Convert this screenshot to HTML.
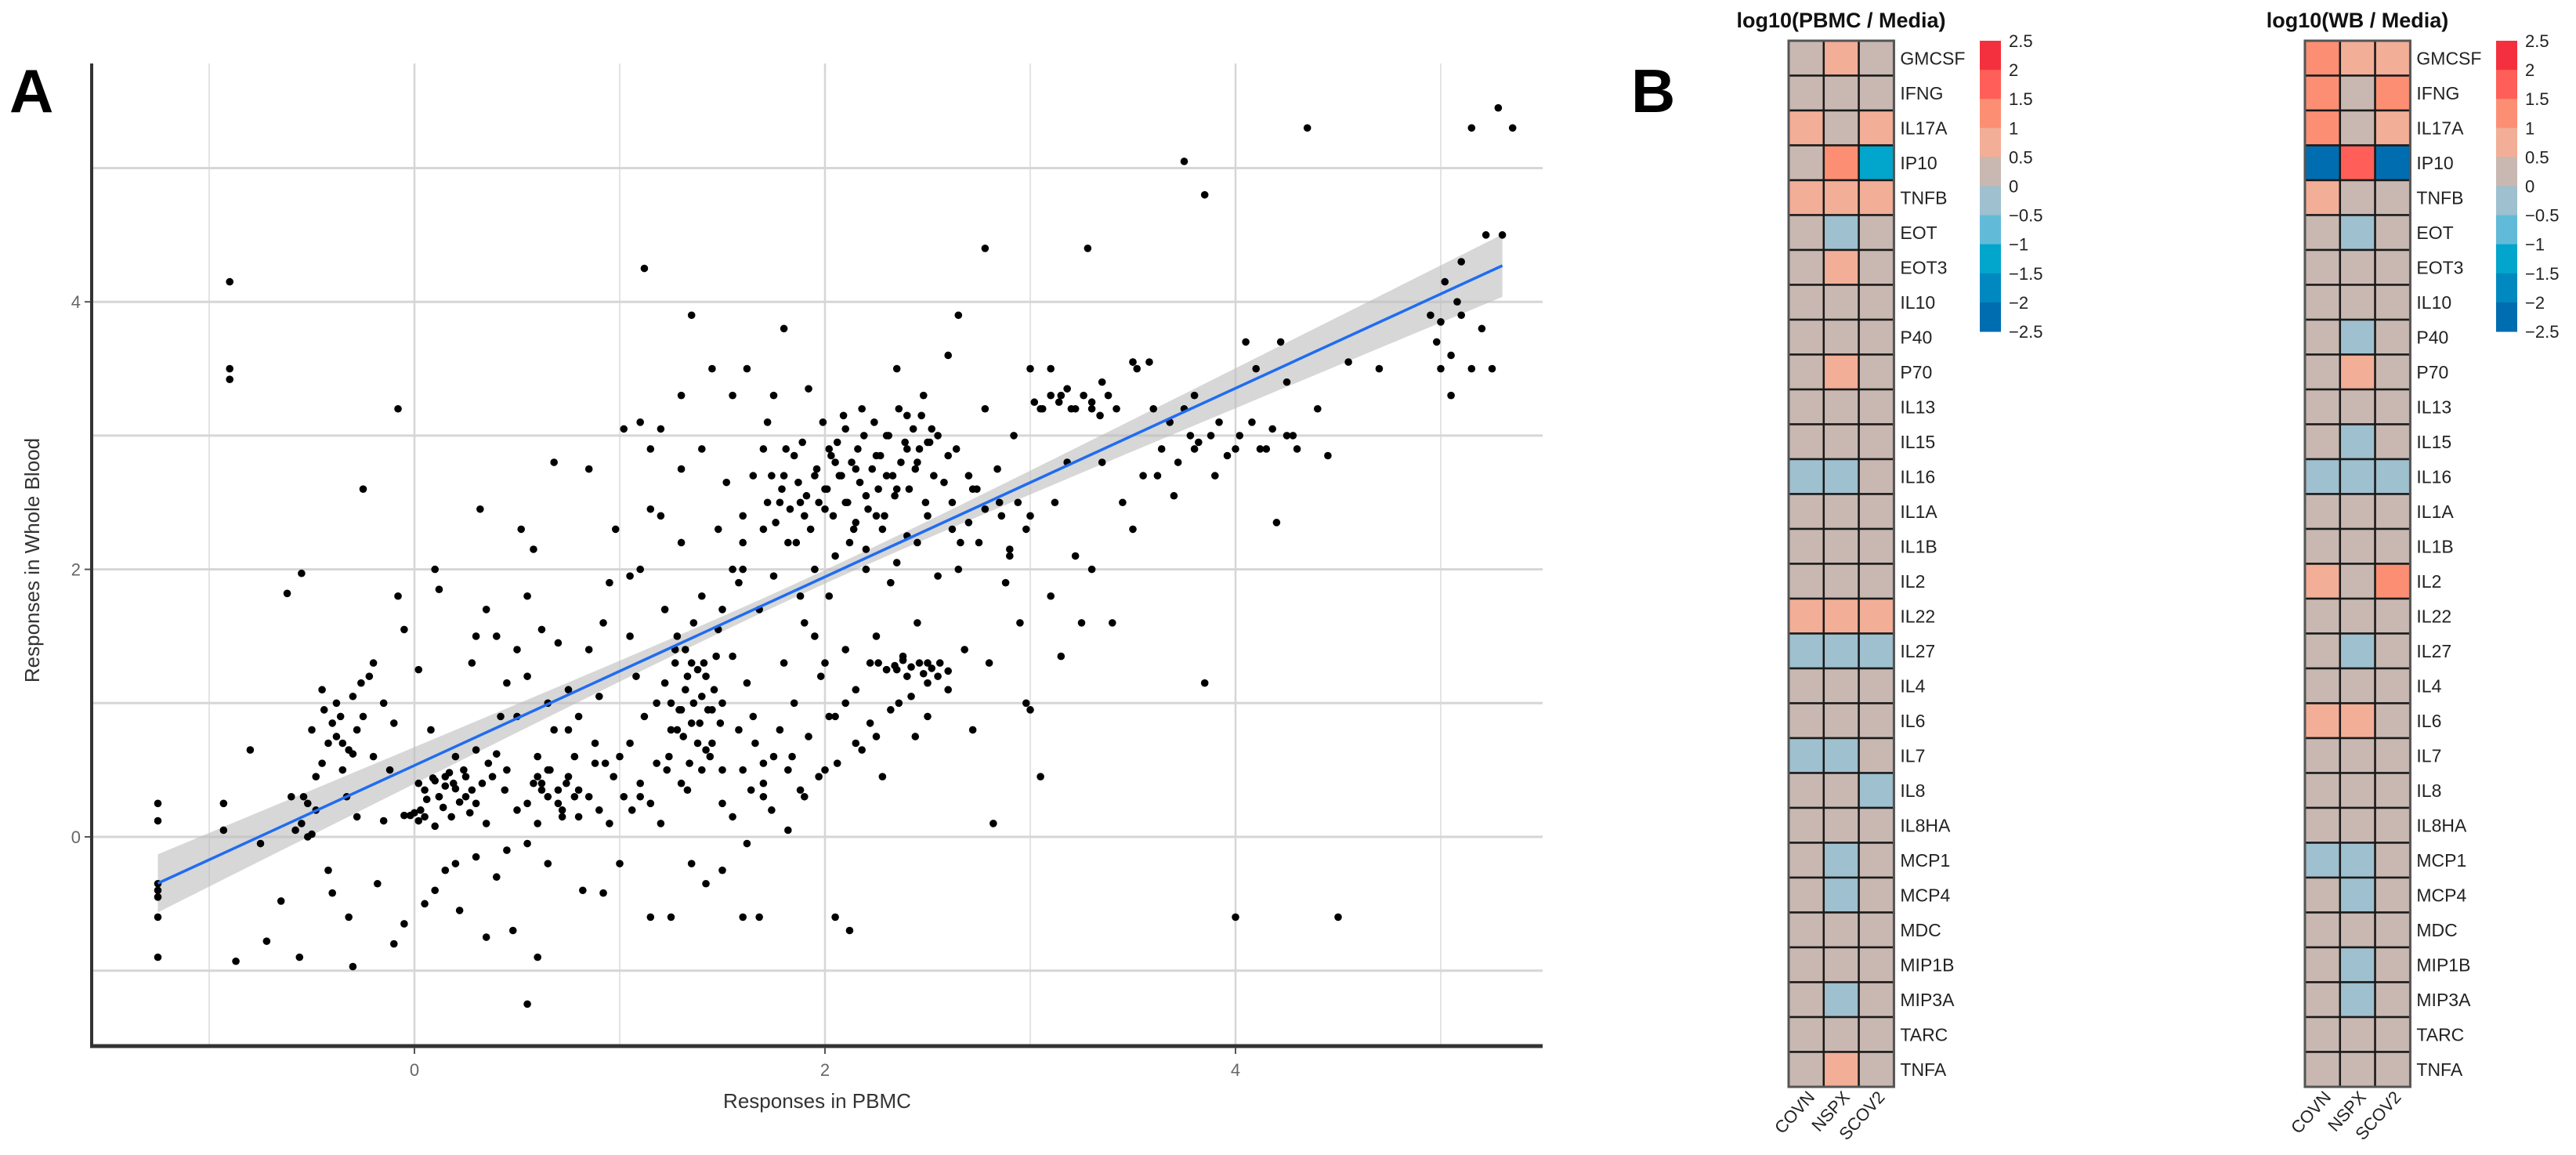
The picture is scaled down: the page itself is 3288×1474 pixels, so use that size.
<!DOCTYPE html>
<html><head><meta charset="utf-8"><style>
html,body{margin:0;padding:0;background:#fff;}
svg{display:block;font-family:"Liberation Sans",sans-serif;}
</style></head><body>
<svg id="fig" width="3288" height="1474" viewBox="0 0 3288 1474" xmlns="http://www.w3.org/2000/svg">
<text x="12" y="143" font-size="78" font-weight="bold">A</text>
<text x="2082" y="143" font-size="78" font-weight="bold">B</text>
<g id="scatter"></g>
<g id="heat"></g>
</svg>
<script>
const NS='http://www.w3.org/2000/svg';
function mk(tag,attrs,parent){const e=document.createElementNS(NS,tag);for(const k in attrs)e.setAttribute(k,attrs[k]);parent.appendChild(e);return e;}

// ---------- Scatter data ----------
const xTicks=[0,2,4];
const yTicks=[0,2,4];
const xMinor=[-1,1,3,5];
const yMinor=[-1,1,3,5];
const fitCoef=[0.534,0.705];
const fitRange=[-1.25,5.3];
const ptsX=[-1.25,-1.25,-1.25,-1.25,-1.25,-1.25,-1.25,-0.9,-0.9,-0.9,-0.93,-0.93,-0.87,-0.8,-0.75,-0.72,-0.65,-0.62,-0.55,-0.6,-0.56,-0.55,-0.52,-0.52,-0.5,-0.5,-0.48,-0.45,-0.45,-0.42,-0.4,-0.4,-0.38,-0.35,-0.33,-0.32,-0.3,-0.3,-0.28,-0.25,-0.25,-0.22,-0.2,-0.2,-0.18,-0.15,-0.15,-0.12,-0.1,-0.1,-0.08,-0.08,-0.05,-0.05,0,0.02,0.02,0.05,0.05,0.08,0.1,0.1,0.12,0.12,0.15,0.15,0.18,0.2,0.22,0.25,0.28,0.3,0.3,0.32,0.35,0.35,0.38,0.4,0.42,0.45,0.48,0.5,0.5,0.52,0.55,0.55,0.58,0.6,0.6,0.62,0.65,0.65,0.68,0.7,0.72,0.75,0.78,0.8,0.82,0.85,0.88,0.9,0.92,
0.95,0.98,1.0,1.0,1.02,1.05,1.05,1.08,1.1,1.1,1.12,1.12,1.15,1.15,1.18,1.2,1.2,1.22,1.25,1.25,1.28,1.3,1.3,1.3,1.32,1.35,1.35,1.35,1.38,1.4,1.4,1.42,1.42,1.45,1.45,1.48,1.48,1.5,1.5,1.5,
1.52,1.55,1.55,1.58,1.6,1.6,1.62,1.62,1.65,1.68,1.68,1.7,1.7,1.72,1.75,1.75,1.78,1.8,1.8,1.82,1.82,1.85,1.85,1.88,1.9,1.9,1.92,1.95,1.95,1.98,2.0,2.0,2.02,2.02,2.05,2.05,2.08,2.1,2.1,2.12,2.12,2.15,2.15,2.18,2.2,2.2,2.22,2.25,2.25,2.28,2.3,2.3,2.32,2.35,2.35,2.38,2.4,2.4,2.42,2.45,2.45,2.48,2.5,2.5,2.52,2.55,2.58,2.6,2.6,2.62,2.65,2.65,2.68,2.7,2.72,2.75,2.78,2.78,2.8,2.82,2.85,2.88,2.9,2.92,2.95,2.98,3.0,3.0,3.0,3.05,3.05,3.1,3.1,3.12,3.15,3.15,3.18,3.2,3.22,3.25,3.28,3.3,3.3,3.35,3.35,3.4,3.45,3.5,3.5,3.55,3.6,3.62,3.7,3.75,3.75,3.8,3.8,3.85,3.85,3.88,3.9,4.0,4.05,4.0,4.1,4.15,4.2,4.22,4.25,4.25,4.3,4.35,4.4,4.45,4.5,4.55,4.7,4.95,5.0,5.02,5.05,5.05,5.1,5.1,5.15,5.15,5.2,5.22,5.25,5.28,5.3,5.35,4.98,5.08,5.0,
0.05,0.1,0.15,0.2,0.25,0.28,-0.02,0.02,0.6,0.62,0.65,0.7,0.75,0.78,1.25,1.28,1.3,1.32,1.35,1.4,1.42,1.45,1.38,1.5,1.55,1.6,1.65,1.7,1.6,1.58,1.75,1.8,1.9,2.0,2.05,2.1,2.15,2.2,2.25,2.3,2.35,2.4,2.45,2.5,2.55,2.6,1.88,1.95,2.0,2.25,2.35,2.4,2.5,2.55,2.05,2.15,1.5,1.55,1.62,1.7,1.82,0.45,0.4,0.35,0.3,0.55,0.5,0.85,0.92,0.95,0.8,0.75,0.65,0.55,0.45,0.3,0.2,0.1,-0.05,1.1,1.2,1.15,1.3,1.05,
0.03,0.06,0.09,0.12,0.14,0.17,0.19,0.22,0.24,0.27,0.33,0.36,0.4,0.44,-0.35,-0.32,-0.28,-0.44,-0.38,-0.26,-0.48,-0.42,-0.36,-0.3,-0.58,-0.54,
1.22,1.24,1.27,1.29,1.31,1.33,1.34,1.36,1.39,1.41,1.43,1.44,1.46,1.47,1.49,1.36,1.33,1.27,1.23,1.4,
1.72,1.74,1.76,1.79,1.81,1.83,1.86,1.87,1.89,1.91,1.93,1.96,1.97,1.99,2.01,2.03,2.04,2.06,2.07,2.09,2.11,2.13,2.14,2.16,2.17,2.19,2.21,2.23,2.24,2.26,2.27,2.29,2.31,2.33,2.34,2.36,2.37,2.39,2.41,2.43,2.44,2.46,2.47,2.49,2.51,2.53,
2.26,2.3,2.34,2.38,2.42,2.46,2.48,2.52,2.56,2.6,
3.02,3.06,3.1,3.14,3.18,3.22,3.26,3.3,3.34,3.38,3.42,3.5,3.52,3.58,3.64,3.68,3.72,3.78,3.82,3.92,3.96,4.02,4.08,4.12,4.18,4.28,
0.55,0.58,0.62,0.66,0.7,0.74,0.8,0.85,0.9,0.97,1.02,1.06,1.1,1.15,1.18,0.88,0.93,0.68,0.72,0.6,
1.6,1.64,1.66,1.7,1.74,1.78,1.84,1.88,1.92,1.97,2.02,2.06,2.1,2.18,2.22,2.28,2.32,2.36,2.44,2.5,
2.62,2.66,2.7,2.74,2.78,2.84,2.9,2.94,2.98,2.64,2.72,2.86];
const ptsY=[0.25,0.12,-0.35,-0.4,-0.45,-0.6,-0.9,4.15,3.5,3.42,0.25,0.05,-0.93,0.65,-0.05,-0.78,-0.48,1.82,1.97,0.3,-0.9,0.1,0.0,0.25,0.8,0.02,0.2,1.1,0.55,-0.25,0.85,-0.42,1.0,0.7,0.3,-0.6,1.05,-0.97,0.15,2.6,0.9,1.2,1.3,0.6,-0.35,1.0,0.12,0.5,0.85,-0.8,3.2,1.8,1.55,0.16,0.18,1.25,0.4,-0.5,0.15,0.8,2.0,0.08,1.85,0.3,-0.25,0.45,0.15,0.6,-0.55,0.3,1.3,0.25,0.65,2.45,0.1,-0.75,0.45,-0.3,0.9,0.5,-0.7,1.4,0.2,2.3,1.8,-1.25,2.15,0.45,-0.9,1.55,1.0,0.3,2.8,1.45,0.2,1.1,0.6,0.35,-0.4,2.75,0.55,1.05,-0.42,
1.9,2.3,0.6,-0.2,3.05,1.95,0.7,1.2,3.1,0.3,4.25,0.9,2.45,-0.6,1.0,3.05,0.1,1.7,-0.6,0.8,1.5,2.2,3.3,0.4,1.1,3.9,1.3,-0.2,0.7,1.8,2.9,1.2,-0.35,3.5,0.95,1.55,2.3,0.5,1.0,-0.25,
2.65,1.35,3.3,0.8,2.0,-0.6,1.15,3.5,0.9,1.7,-0.6,2.3,0.3,3.1,1.95,0.6,2.5,3.8,1.3,2.2,0.05,2.85,1.0,2.5,1.6,0.3,3.35,2.0,2.7,1.2,2.45,0.5,1.8,2.9,2.1,-0.6,2.7,1.4,3.05,-0.7,2.2,2.75,1.1,3.2,2.0,2.55,1.3,2.85,0.75,2.3,3.0,1.25,1.9,3.5,2.6,1.35,3.15,2.25,1.05,2.8,1.6,3.3,1.3,2.4,3.05,1.95,2.65,3.6,1.1,2.3,2.0,3.9,1.4,2.7,0.8,2.2,4.4,3.2,1.3,0.1,2.5,1.9,2.15,3.0,1.6,1.0,0.95,3.5,2.4,3.2,0.45,1.8,3.5,2.5,3.3,1.35,2.8,3.2,2.1,1.6,4.4,3.2,2.0,3.4,2.8,1.6,2.5,3.55,2.3,2.7,3.2,2.7,2.55,5.05,3.2,2.9,3.3,1.15,4.8,3.0,2.7,2.9,3.7,-0.6,3.5,2.9,2.35,3.7,3.0,3.4,2.9,5.3,3.2,2.85,-0.6,3.55,3.5,3.9,3.85,4.15,3.6,3.3,4.3,3.9,5.3,3.5,3.8,4.5,3.5,5.45,4.5,5.3,3.7,4.0,3.5,
0.35,0.42,0.38,0.36,0.45,0.35,0.16,0.12,0.6,0.4,0.5,0.35,0.45,0.3,1.0,0.8,0.95,1.4,0.85,0.5,0.65,0.7,1.25,1.7,2.0,2.4,2.7,2.9,2.2,1.9,3.3,2.7,2.4,2.6,2.8,2.5,2.35,2.15,2.4,2.7,2.05,2.9,2.2,2.95,3.0,2.85,1.8,1.5,1.3,1.5,1.25,1.2,1.15,1.2,0.9,0.7,0.25,0.15,-0.05,0.4,0.5,1.15,1.5,1.7,1.5,1.2,0.9,1.4,1.6,0.1,0.9,0.8,-0.2,-0.05,-0.1,-0.15,-0.2,-0.4,-0.65,2.0,2.4,2.9,2.75,1.5,
0.2,0.28,0.44,0.3,0.22,0.48,0.4,0.26,0.5,0.18,0.4,0.55,0.62,0.35,0.5,0.65,0.8,0.95,0.75,1.15,0.45,0.7,0.9,0.62,0.05,0.3,
1.15,0.6,1.3,0.95,0.75,1.2,0.55,1.0,0.85,1.3,0.95,0.6,1.1,1.35,0.85,1.6,0.35,1.4,0.5,1.05,
2.5,2.7,2.35,2.6,2.9,2.45,2.2,2.65,2.95,2.55,2.3,2.75,2.5,3.1,2.6,2.85,2.4,2.95,2.7,3.15,2.5,2.8,2.3,2.9,2.65,3.0,2.45,2.75,3.1,2.6,2.85,2.4,3.0,2.7,2.55,3.2,2.8,2.95,2.6,3.05,2.75,2.9,3.15,2.5,2.95,2.7,
1.3,1.25,1.28,1.32,1.27,1.3,1.22,1.26,1.3,1.24,
3.25,3.2,3.3,3.25,3.35,3.2,3.3,3.25,3.15,3.3,3.2,3.55,3.5,3.55,2.9,3.1,2.8,3.0,2.95,3.1,2.85,3.0,3.1,2.9,3.05,3.0,
0.25,0.4,0.35,0.5,0.25,0.4,0.15,0.3,0.2,0.45,0.3,0.2,0.4,0.25,0.55,0.7,0.55,0.8,0.15,0.1,
0.5,0.35,0.7,0.55,0.2,0.8,0.6,0.35,0.75,0.45,0.9,0.55,1.0,0.65,0.85,0.45,0.95,1.0,0.75,0.9,
2.5,2.2,2.35,2.6,2.45,2.75,2.1,2.5,2.3,2.9,2.6,2.4];

// axis functions
const PX0=529, PXU=262, PY0=1068, PYU=170.7;
const L=117, R=1969, T=81, B=1335;
function sx(v){return PX0+v*PXU;}
function sy(v){return PY0-v*PYU;}

const sc=document.getElementById('scatter');
for(const v of xMinor){const l=mk('line',{x1:sx(v),x2:sx(v),y1:T,y2:B,stroke:'#e4e4e4','stroke-width':2},sc);

}
for(const v of xTicks){const l=mk('line',{x1:sx(v),x2:sx(v),y1:T,y2:B,stroke:'#d6d6d6','stroke-width':2.5},sc);

}
for(const v of yMinor){const l=mk('line',{x1:L,x2:R,y1:sy(v),y2:sy(v),stroke:'#d6d6d6','stroke-width':3},sc);

}
for(const v of yTicks){const l=mk('line',{x1:L,x2:R,y1:sy(v),y2:sy(v),stroke:'#d6d6d6','stroke-width':3},sc);

}
(function(){
  let up=[],dn=[];
  for(let i=0;i<=40;i++){const x=fitRange[0]+(fitRange[1]-fitRange[0])*i/40;const y=fitCoef[0]+fitCoef[1]*x;const h=Math.sqrt(0.0025+0.0045*(x-1.9)*(x-1.9));
  up.push(sx(x)+','+sy(y+h));dn.unshift(sx(x)+','+sy(y-h));}
  const p=mk('polygon',{points:up.concat(dn).join(' '),fill:'#bdbdbd','fill-opacity':0.6},sc);
  
  
})();
for(let i=0;i<ptsX.length;i++){const c=mk('circle',{cx:sx(ptsX[i]),cy:sy(ptsY[i]),r:4.8,fill:'#000'},sc);

}
{const l=mk('line',{x1:sx(fitRange[0]),y1:sy(fitCoef[0]+fitCoef[1]*fitRange[0]),x2:sx(fitRange[1]),y2:sy(fitCoef[0]+fitCoef[1]*fitRange[1]),stroke:'#1f6cf0','stroke-width':3.5},sc);

}
{const a=mk('line',{x1:L,x2:L,y1:T,y2:B+2,stroke:'#333','stroke-width':4},sc);


const b=mk('line',{x1:L-2,x2:R,y1:B,y2:B,stroke:'#333','stroke-width':5},sc);

}
for(const v of xTicks){
  const t=mk('line',{x1:sx(v),x2:sx(v),y1:B+2,y2:B+10,stroke:'#555','stroke-width':2},sc);
  
  
  const tx=mk('text',{x:sx(v),y:B+38,'font-size':22,fill:'#666','text-anchor':'middle'},sc);tx.textContent=v;
  
  
}
for(const v of yTicks){
  const t=mk('line',{x1:L-9,x2:L-2,y1:sy(v),y2:sy(v),stroke:'#555','stroke-width':2},sc);
  
  
  const tx=mk('text',{x:L-14,y:sy(v)+8,'font-size':22,fill:'#666','text-anchor':'end'},sc);tx.textContent=v;
  
  
}
{const xt=mk('text',{x:1043,y:1414,'font-size':26,fill:'#333','text-anchor':'middle'},sc);xt.textContent='Responses in PBMC';


const yt=mk('text',{x:0,y:0,'font-size':26,fill:'#333','text-anchor':'middle',transform:'translate(50,715) rotate(-90)'},sc);yt.textContent='Responses in Whole Blood';

}

// ---------- Heatmap data ----------
const cytokines=['GMCSF','IFNG','IL17A','IP10','TNFB','EOT','EOT3','IL10','P40','P70','IL13','IL15','IL16','IL1A','IL1B','IL2','IL22','IL27','IL4','IL6','IL7','IL8','IL8HA','MCP1','MCP4','MDC','MIP1B','MIP3A','TARC','TNFA'];
const conditions=['COVN','NSPX','SCOV2'];
const pbmcCOVN=[.25,.25,.75,.25,.75,.25,.25,.25,.25,.25,.25,.25,-.25,.25,.25,.25,.75,-.25,.25,.25,-.25,.25,.25,.25,.25,.25,.25,.25,.25,.25];
const pbmcNSPX=[.75,.25,.25,1.25,.75,-.25,.75,.25,.25,.75,.25,.25,-.25,.25,.25,.25,.75,-.25,.25,.25,-.25,.25,.25,-.25,-.25,.25,.25,-.25,.25,.75];
const pbmcSCOV2=[.25,.25,.75,-1.25,.75,.25,.25,.25,.25,.25,.25,.25,.25,.25,.25,.25,.75,-.25,.25,.25,.25,-.25,.25,.25,.25,.25,.25,.25,.25,.25];
const wbCOVN=[1.25,1.25,1.25,-2.25,.75,.25,.25,.25,.25,.25,.25,.25,-.25,.25,.25,.75,.25,.25,.25,.75,.25,.25,.25,-.25,.25,.25,.25,.25,.25,.25];
const wbNSPX=[.75,.25,.25,1.75,.25,-.25,.25,.25,-.25,.75,.25,-.25,-.25,.25,.25,.25,.25,-.25,.25,.75,.25,.25,.25,-.25,-.25,.25,-.25,-.25,.25,.25];
const wbSCOV2=[.75,1.25,.75,-2.25,.25,.25,.25,.25,.25,.25,.25,.25,-.25,.25,.25,1.25,.25,.25,.25,.25,.25,.25,.25,.25,.25,.25,.25,.25,.25,.25];
const legendTicks=[2.5,2,1.5,1,0.5,0,-0.5,-1,-1.5,-2,-2.5];
const binColors=['#f5303e','#ff5f58','#fc8f73','#f2ae97','#c8b8b1','#9ec0cf','#62bad9','#02a5cc','#0089c0','#006db0'];
function colorOf(v){let i=Math.floor((2.5-v)/0.5);i=Math.max(0,Math.min(9,i));return binColors[i];}

const hg=document.getElementById('heat');
const CW=44.8, RH=44.5, TOP=52;
function drawHeat(x0,title,cols,barX,name){
  const g=mk('g',{},hg);
  
  
  const tt=mk('text',{x:x0+67,y:35,'font-size':27,'font-weight':'bold','text-anchor':'middle',fill:'#111'},g);tt.textContent=title;
  
  
  for(let c=0;c<3;c++)for(let r=0;r<cytokines.length;r++){
    const rc=mk('rect',{x:x0+c*CW,y:TOP+r*RH,width:CW,height:RH,fill:colorOf(cols[c][r]),stroke:'#1a1a1a','stroke-width':2.5},g);
    
    
  }
  const fr=mk('rect',{x:x0,y:TOP,width:3*CW,height:cytokines.length*RH,fill:'none',stroke:'#555','stroke-width':3},g);
  
  
  for(let r=0;r<cytokines.length;r++){
    const t=mk('text',{x:x0+3*CW+8,y:TOP+r*RH+RH/2+8,'font-size':23,fill:'#222'},g);t.textContent=cytokines[r];
    
    
  }
  for(let c=0;c<3;c++){
    const t=mk('text',{x:0,y:0,'font-size':22,fill:'#222','text-anchor':'end',transform:'translate('+(x0+c*CW+CW/2+12)+','+(TOP+cytokines.length*RH+14)+') rotate(-48)'},g);t.textContent=conditions[c];
    
    
  }
  const segH=37.1;
  for(let i=0;i<10;i++){
    const s=mk('rect',{x:barX,y:TOP+i*segH,width:27,height:segH+0.5,fill:binColors[i]},g);
    
    
  }
  for(let i=0;i<legendTicks.length;i++){
    const v=legendTicks[i];
    const t=mk('text',{x:barX+37,y:TOP+i*segH+8,'font-size':22,fill:'#222'},g);t.textContent=(v<0?'\u2212'+(-v):String(v));
    
    
  }
}
drawHeat(2283,'log10(PBMC / Media)',[pbmcCOVN,pbmcNSPX,pbmcSCOV2],2527,'pbmc-heatmap');
drawHeat(2942,'log10(WB / Media)',[wbCOVN,wbNSPX,wbSCOV2],3186,'wb-heatmap');
</script>
</body></html>
